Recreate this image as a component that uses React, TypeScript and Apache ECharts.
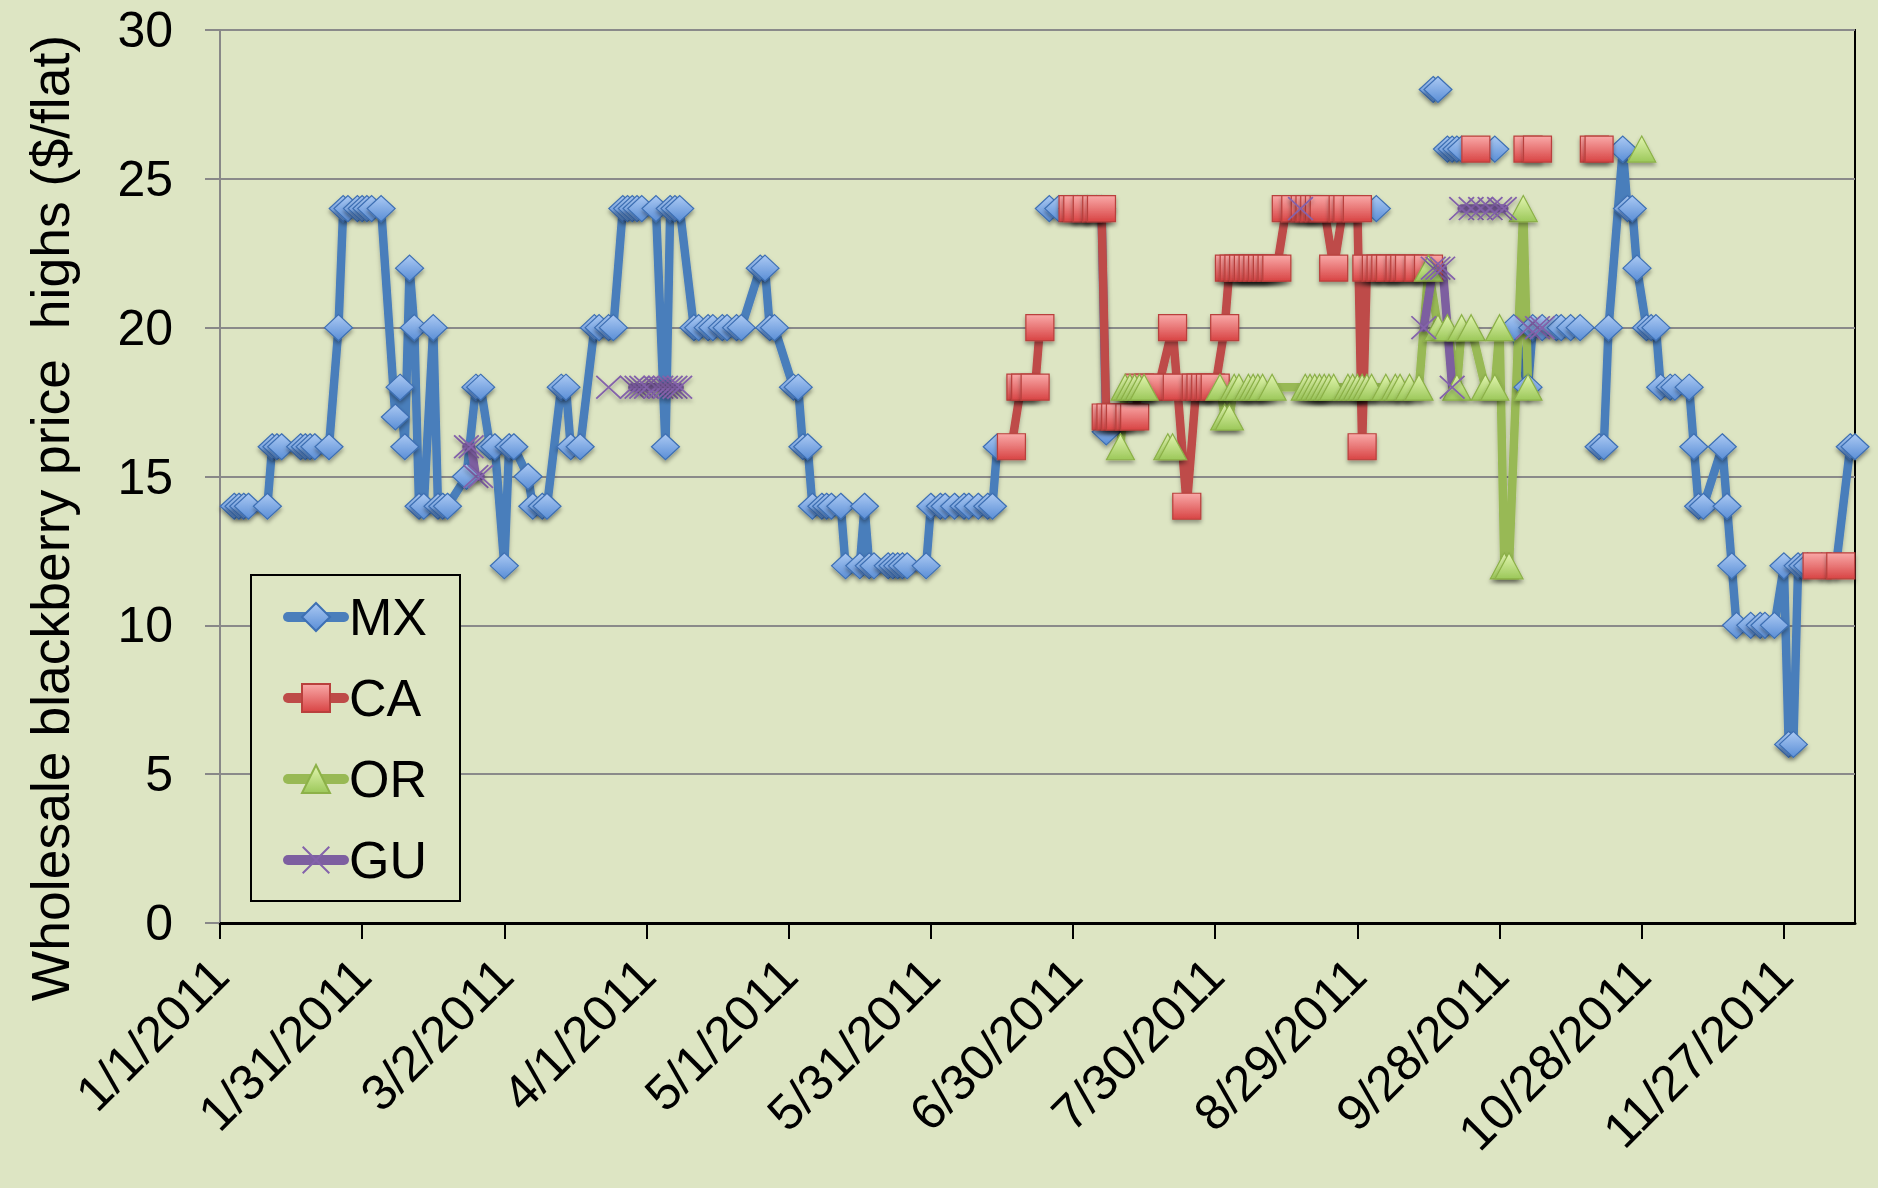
import React, { useEffect, useRef } from "react";
import * as echarts from "echarts";

// Each point: [day counted from 1/1/2011 (day 0), price high in $/flat]; null = gap in the line
const mxPoints: [number, number | null][] = [
  [3, 14], [4, 14], [5, 14], [6, 14], [10, 14], [11, 16], [12, 16], [13, 16], [17, 16], [18, 16], [19, 16], [20, 16],
  [23, 16], [25, 20], [26, 24], [27, 24], [29, 24], [30, 24], [31, 24], [32, 24], [34, 24], [37, 17], [38, 18],
  [39, 16], [40, 22], [41, 20], [42, 14], [43, 14], [45, 20], [46, 14], [47, 14], [48, 14], [52, 15], [54, 18],
  [55, 18], [57, 16], [58, 16], [60, 12], [61, 16], [62, 16], [65, 15], [66, 14], [68, 14], [69, 14], [72, 18],
  [73, 18], [74, 16], [76, 16], [79, 20], [80, 20], [82, 20], [83, 20], [85, 24], [86, 24], [87, 24], [88, 24],
  [89, 24], [92, 24], [94, 16], [95, 24], [96, 24], [97, 24], [100, 20], [101, 20], [103, 20], [104, 20], [106, 20],
  [107, 20], [109, 20], [110, 20], [114, 22], [115, 22], [116, 20], [117, 20], [121, 18], [122, 18], [123, 16],
  [124, 16], [125, 14], [127, 14], [128, 14], [129, 14], [131, 14], [132, 12], [135, 12], [136, 14], [137, 12],
  [138, 12], [141, 12], [142, 12], [143, 12], [144, 12], [145, 12], [149, 12], [150, 14], [152, 14], [153, 14],
  [155, 14], [157, 14], [158, 14], [160, 14], [162, 14], [163, 14], [164, 16], [170, null],
  [175, 24], [177, 24], [180, 24], [181, 24], [183, 24], [185, 24], [186, 24], [187, 16.5], [200, null],
  [244, 24], [250, null], [256, 28], [257, 28], [258, null], [259, 26], [260, 26], [261, 26], [262, 26],
  [269, 26], [271, null], [273, 20], [276, 18], [277, 20], [279, 20], [282, 20], [283, 20], [285, 20], [287, 20],
  [289, null], [291, 16], [292, 16], [293, 20], [296, 26], [297, 24], [298, 24], [299, 22], [301, 20], [302, 20],
  [303, 20], [304, 18], [306, 18], [307, 18], [310, 18], [311, 16], [312, 14], [313, 14], [317, 16], [318, 14],
  [319, 12], [320, 10], [323, 10], [325, 10], [326, 10], [328, 10], [330, 12], [331, 6], [332, 6], [333, 12],
  [334, 12], [335, 12], [338, 12], [341, 12], [344, 16], [345, 16],
];

const caPoints: [number, number | null][] = [
  [167, 16], [169, 18], [170, 18], [172, 18], [173, 20], [176, null],
  [180, 24], [181, 24], [183, 24], [185, 24], [186, 24], [187, 17], [188, 17], [189, 17], [190, 17], [192, 17],
  [193, 17], [194, 18], [196, 18], [198, 18], [201, 20], [202, 18], [204, 14], [206, 18], [207, 18], [208, 18],
  [209, 18], [210, 18], [212, 20], [213, 22], [214, 22], [215, 22], [216, 22], [217, 22], [218, 22], [219, 22],
  [220, 22], [221, 22], [222, 22], [223, 22], [225, 24], [227, 24], [229, 24], [230, 24], [231, 24], [232, 24],
  [233, 24], [235, 22], [237, 24], [238, 24], [240, 24], [241, 16], [242, 22], [244, 22], [245, 22], [246, 22],
  [247, 22], [249, 22], [250, 22], [251, 22], [253, 22], [255, 22], [260, null],
  [265, 26], [270, null], [276, 26], [278, 26], [284, null], [290, 26], [291, 26], [300, null],
  [337, 12], [342, 12],
];

const orPoints: [number, number | null][] = [
  [190, 16], [191, 18], [192, 18], [193, 18], [194, 18], [195, 18], [197, null], [200, 16], [201, 16], [205, null],
  [211, 18], [212, 17], [213, 17], [214, 18], [215, 18], [217, 18], [218, 18], [219, 18], [220, 18], [222, 18],
  [229, 18], [230, 18], [231, 18], [232, 18], [233, 18], [234, 18], [235, 18], [238, 18], [239, 18], [240, 18],
  [241, 18], [242, 18], [243, 18], [246, 18], [248, 18], [249, 18], [251, 18], [253, 18], [255, 22], [257, 20],
  [259, 20], [261, 18], [262, 20], [264, 20], [267, 18], [269, 18], [270, 20], [271, 12], [272, 12], [275, 24],
  [276, 18], [285, null], [300, 26],
];

const guPoints: [number, number | null][] = [
  [52, 16], [53, 16], [54, 15], [55, 15], [70, null], [82, 18], [85, null], [87, 18], [88, 18], [89, 18],
  [90, 18], [92, 18], [93, 18], [94, 18], [95, 18], [96, 18], [97, 18], [150, null], [228, 24], [240, null],
  [254, 20], [256, 22], [257, 22], [258, 22], [260, 18], [261, null], [262, 24], [264, 24], [266, 24], [268, 24],
  [270, 24], [271, 24], [274, null], [276, 20], [278, 20], [279, 20],
];

const seriesNames = ["MX", "CA", "OR", "GU"];
const xTickDays = [0, 30, 60, 90, 120, 150, 180, 210, 240, 270, 300, 330];
const xMaxDay = 345;
const yTicks = [0, 5, 10, 15, 20, 25, 30];
const yTitle = "Wholesale blackberry price  highs ($/flat)";

const FONT = '"Liberation Sans", Arial, sans-serif';
const BG = "#dde5c3";

function dayLabel(d: number): string {
  const dt = new Date(Date.UTC(2011, 0, 1) + d * 86400000);
  return `${dt.getUTCMonth() + 1}/${dt.getUTCDate()}/${dt.getUTCFullYear()}`;
}

const grad = (top: string, bottom: string) =>
  new echarts.graphic.LinearGradient(0, 0, 0, 1, [
    { offset: 0, color: top },
    { offset: 1, color: bottom },
  ]);

const CROSS = "path://M0,5L5,0L100,95L95,100Z M95,0L100,5L5,100L0,95Z";

function makeSeries(
  name: string,
  pts: [number, number | null][],
  lineColor: string,
  symbol: string,
  size: number[],
  fill: any,
  border: string,
  borderWidth: number
) {
  return {
    name,
    type: "line",
    data: pts.map(([d, v]) => [d, v == null ? "-" : v]),
    connectNulls: false,
    symbol,
    symbolSize: size,
    showAllSymbol: true,
    clip: false,
    lineStyle: {
      color: lineColor,
      width: 8.5,
      cap: "round",
      join: "round",
      shadowColor: "rgba(0,0,0,0.25)",
      shadowBlur: 4,
      shadowOffsetY: 3,
    },
    itemStyle: {
      color: fill,
      borderColor: border,
      borderWidth,
      shadowColor: "rgba(0,0,0,0.35)",
      shadowBlur: 4,
      shadowOffsetY: 3,
    },
    emphasis: { disabled: true },
  };
}

export default function App() {
  const ref = useRef<HTMLDivElement>(null);

  useEffect(() => {
    if (!ref.current) return;
    const chart = echarts.init(ref.current, undefined, { renderer: "svg" });
    const option: any = {
      animation: false,
      backgroundColor: BG,
      textStyle: { fontFamily: FONT },
      grid: {
        left: 220,
        right: 23,
        top: 30,
        bottom: 265,
        show: true,
        borderColor: "#000",
        borderWidth: 2,
        backgroundColor: "transparent",
      },
      legend: {
        data: seriesNames,
        orient: "vertical",
        left: 251,
        top: 575,
        padding: [12, 33, 11, 32],
        itemWidth: 56,
        itemHeight: 35,
        itemGap: 21,
        borderColor: "#000",
        borderWidth: 2,
        backgroundColor: BG,
        lineStyle: { width: 10, cap: "round", shadowBlur: 0, shadowOffsetY: 0 },
        itemStyle: { shadowBlur: 0, shadowOffsetY: 0 },
        textStyle: { fontSize: 52, fontFamily: FONT, color: "#000", lineHeight: 60 },
      },
      xAxis: {
        type: "value",
        min: 0,
        max: xMaxDay,
        interval: 30,
        axisLine: { show: true, onZero: false, lineStyle: { color: "#000", width: 3 } },
        axisTick: {
          show: true,
          customValues: xTickDays,
          length: 16,
          lineStyle: { color: "#000", width: 2 },
        },
        axisLabel: {
          customValues: xTickDays,
          rotate: 45,
          margin: 44,
          fontSize: 50,
          fontFamily: FONT,
          color: "#000",
          formatter: (v: number) => dayLabel(v),
        },
        splitLine: { show: false },
      },
      yAxis: {
        type: "value",
        min: yTicks[0],
        max: yTicks[yTicks.length - 1],
        interval: 5,
        axisLine: { show: true, lineStyle: { color: "#888", width: 2 } },
        axisTick: { show: true, length: 15, lineStyle: { color: "#888", width: 2 } },
        axisLabel: { fontSize: 50, fontFamily: FONT, color: "#000", margin: 47 },
        splitLine: { show: true, lineStyle: { color: "#8a8a8a", width: 2 } },
      },
      graphic: [
        {
          type: "text",
          x: 50,
          y: 518,
          rotation: Math.PI / 2,
          style: {
            text: yTitle,
            fontSize: 53.5,
            fontFamily: FONT,
            fill: "#000",
            align: "center",
            verticalAlign: "middle",
          },
        },
      ],
      series: [
        makeSeries("MX", mxPoints, "#4a7ebb", "diamond", [28, 26], grad("#abc9f3", "#5a8ed6"), "#3d6fb3", 1.2),
        makeSeries("CA", caPoints, "#be4b48", "rect", [28, 26], grad("#f9a9a8", "#d84444"), "#b9403d", 1.2),
        makeSeries("OR", orPoints, "#98b954", "triangle", [28, 26], grad("#e2f5b0", "#9cc85a"), "#8cb148", 1.2),
        makeSeries("GU", guPoints, "#7d5fa0", CROSS, [26, 24], "#8462ab", "#8462ab", 0),
      ],
    };
    chart.setOption(option);
    return () => chart.dispose();
  }, []);

  return (
    <div
      ref={ref}
      style={{ position: "fixed", left: 0, top: 0, width: 1878, height: 1188, background: BG }}
    />
  );
}
